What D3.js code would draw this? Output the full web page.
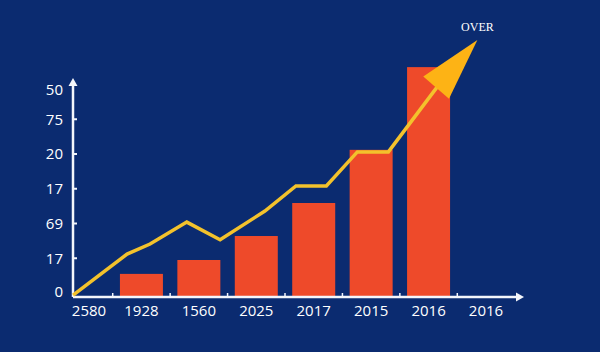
<!DOCTYPE html>
<html>
<head>
<meta charset="utf-8">
<script src="https://cdn.jsdelivr.net/npm/d3@7"></script>
<style>
  html, body { margin: 0; padding: 0; background: #0b2b70; }
  svg { display: block; }
</style>
</head>
<body>
<div id="chart"></div>
<script>
// categories along the x axis (first and last have no bar)
var categories = ["2580", "1928", "1560", "2025", "2017", "2015", "2016", "2016"];
// bar heights, for categories 1..6
var barValues = [0.55, 0.95, 1.64, 2.59, 4.12, 6.50];
// y tick labels, bottom to top
var yTickLabels = ["0", "17", "69", "17", "20", "75", "50"];
// trend line: [category position, value]
var linePos = [-0.19, 0.75, 1.15, 1.79, 2.37, 3.15, 3.69, 4.22, 4.76, 5.30, 6.20];
var lineVals = [-0.06, 1.12, 1.41, 2.04, 1.53, 2.36, 3.08, 3.08, 4.06, 4.06, 6.04];
var arrowTip = [6.85, 7.28];
var arrowLabel = "OVER";

var width = 600, height = 352;
var origin = {x: 73, y: 297};
var font = "'Open Sans', 'Noto Sans', sans-serif";

var svg = d3.select("#chart").append("svg")
    .attr("width", width)
    .attr("height", height);

svg.append("rect")
    .attr("width", width)
    .attr("height", height)
    .attr("fill", "#0b2b70");

var x = d3.scaleLinear()
    .domain([0, categories.length - 1])
    .range([84, 486]);

var y = d3.scaleLinear()
    .domain([0, 6])
    .range([293, 84.5]);

var barW = 43;

// bars
svg.selectAll("rect.bar")
    .data(barValues)
  .enter().append("rect")
    .attr("class", "bar")
    .attr("x", function(d, i) { return x(i + 1) - barW / 2; })
    .attr("y", function(d) { return y(d); })
    .attr("width", barW)
    .attr("height", function(d) { return origin.y - y(d); })
    .attr("fill", "#ee4a2a");

// axes
var axisColor = "#f4f6fb";
svg.append("line")
    .attr("x1", origin.x).attr("y1", origin.y)
    .attr("x2", origin.x).attr("y2", 83)
    .attr("stroke", axisColor).attr("stroke-width", 2.5);
svg.append("path")
    .attr("d", "M" + (origin.x - 4.5) + ",86 L" + origin.x + ",78 L" + (origin.x + 4.5) + ",86 Z")
    .attr("fill", axisColor);

svg.append("line")
    .attr("x1", origin.x).attr("y1", origin.y)
    .attr("x2", 519).attr("y2", origin.y)
    .attr("stroke", axisColor).attr("stroke-width", 2.5);
svg.append("path")
    .attr("d", "M516," + (origin.y - 4.5) + " L524," + origin.y + " L516," + (origin.y + 4.5) + " Z")
    .attr("fill", axisColor);

// y ticks and labels
var yTicks = d3.range(yTickLabels.length);
svg.selectAll("line.ytick")
    .data(yTicks.slice(1, 6))
  .enter().append("line")
    .attr("class", "ytick")
    .attr("x1", origin.x).attr("x2", origin.x + 4)
    .attr("y1", function(d) { return y(d); })
    .attr("y2", function(d) { return y(d); })
    .attr("stroke", axisColor).attr("stroke-width", 2);

svg.selectAll("text.ylabel")
    .data(yTicks)
  .enter().append("text")
    .attr("class", "ylabel")
    .attr("x", 63)
    .attr("y", function(d) { return y(Math.min(Math.max(d, 0.05), 5.85)); })
    .attr("dy", "0.35em")
    .attr("text-anchor", "end")
    .style("font-family", font)
    .style("font-size", "15px")
    .style("fill", "#fff")
    .text(function(d) { return yTickLabels[d]; });

// x ticks between categories
svg.selectAll("line.xtick")
    .data(d3.range(categories.length - 1))
  .enter().append("line")
    .attr("class", "xtick")
    .attr("x1", function(d) { return x(d + 0.5); })
    .attr("x2", function(d) { return x(d + 0.5); })
    .attr("y1", origin.y).attr("y2", origin.y - 4)
    .attr("stroke", axisColor).attr("stroke-width", 1.5);

svg.selectAll("text.xlabel")
    .data(categories)
  .enter().append("text")
    .attr("class", "xlabel")
    .attr("x", function(d, i) { return i === 0 ? 89 : x(i); })
    .attr("y", 316)
    .attr("text-anchor", "middle")
    .style("font-family", font)
    .style("font-size", "15px")
    .style("fill", "#fff")
    .text(function(d) { return d; });

// trend line
var lineData = linePos.map(function(p, i) { return [p, lineVals[i]]; });
var valueline = d3.line()
    .x(function(d) { return x(d[0]); })
    .y(function(d) { return y(d[1]); });

svg.append("path")
    .datum(lineData)
    .attr("d", valueline)
    .attr("fill", "none")
    .attr("stroke", "#f3c22c")
    .attr("stroke-width", 3.5)
    .attr("stroke-linejoin", "miter");

// arrow head
var last = lineData[lineData.length - 1];
var tx = x(arrowTip[0]), ty = y(arrowTip[1]);
var bx = x(last[0]), by = y(last[1]);
var dx = tx - bx, dy = ty - by, len = Math.sqrt(dx * dx + dy * dy);
var nx = -dy / len, ny = dx / len, half = 17;
var baseX = bx - dx / len * 6, baseY = by - dy / len * 6;
svg.append("path")
    .attr("d", "M" + tx + "," + ty +
      " L" + (baseX + nx * half) + "," + (baseY + ny * half) +
      " L" + (baseX - nx * half) + "," + (baseY - ny * half) + " Z")
    .attr("fill", "#fdb315");

svg.append("text")
    .attr("x", tx)
    .attr("y", ty - 9)
    .attr("text-anchor", "middle")
    .style("font-family", "'Liberation Serif', 'DejaVu Serif', serif")
    .style("font-size", "12px")
    .style("fill", "#fff")
    .text(arrowLabel);
</script>
</body>
</html>
